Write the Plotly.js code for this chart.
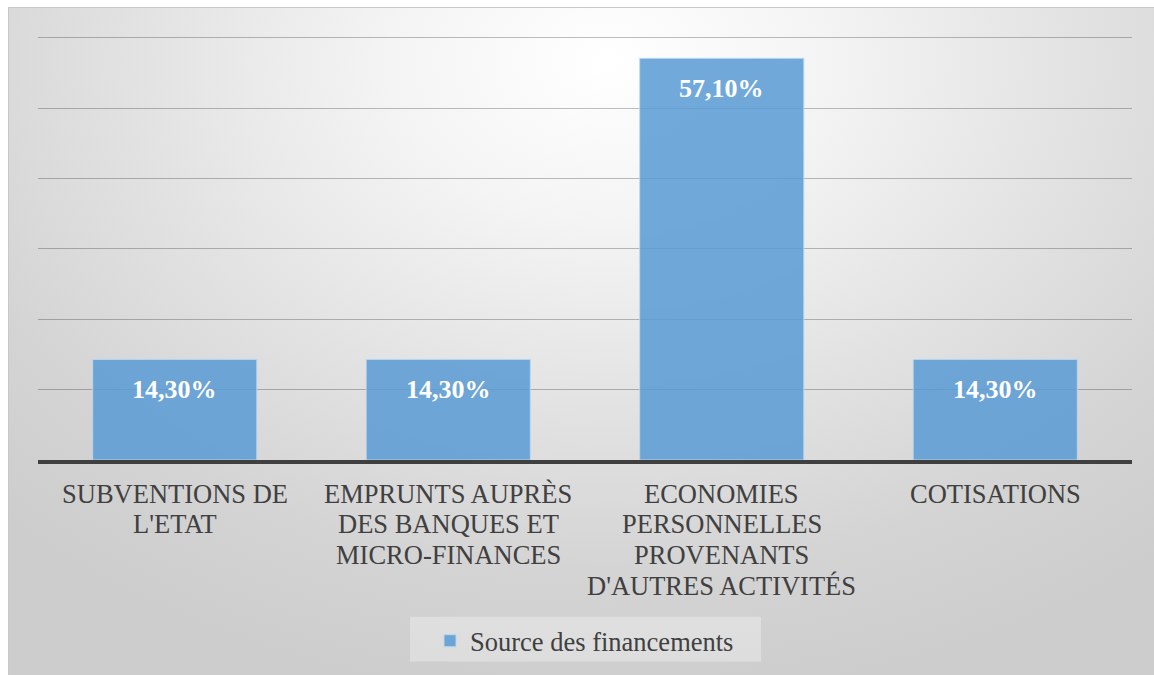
<!DOCTYPE html>
<html>
<head>
<meta charset="utf-8">
<script src="https://cdn.plot.ly/plotly-3.0.1.min.js"></script>
<style>
  html, body { margin: 0; padding: 0; background: #ffffff; }
  #fond {
    position: absolute; left: 8px; top: 7px; width: 1150px; height: 672px;
    border: 1px solid #c8c8c8;
    background: radial-gradient(ellipse 75% 95% at 52% 8%, #ffffff 0%, #f4f4f4 25%, #e2e2e2 55%, #d4d4d4 80%, #cdcdcd 100%);
  }
  #grafico { position: absolute; left: 0; top: 0; width: 1154px; height: 675px; }
</style>
</head>
<body>
<div id="fond"></div>
<div id="grafico"></div>
<script>
// Données du graphique
const categories = ['Subventions', 'Emprunts', 'Economies', 'Cotisations']
const etiquettes = [
    ["SUBVENTIONS DE", "L'ETAT"],
    ["EMPRUNTS AUPRÈS", "DES BANQUES ET", "MICRO-FINANCES"],
    ["ECONOMIES", "PERSONNELLES", "PROVENANTS", "D'AUTRES ACTIVITÉS"],
    ["COTISATIONS"]
]
const valeurs = [14.3, 14.3, 57.1, 14.3]
const nomSerie = 'Source des financements'

const grafico = document.getElementById('grafico')
const W = 1154, H = 675
const marge = {l: 38, r: 22, t: 36, b: 214}
const police = '"Liberation Serif", "Times New Roman", serif'

// pixel -> coordonnées paper
const px = x => (x - marge.l) / (W - marge.l - marge.r)
const py = y => (H - marge.b - y) / (H - marge.t - marge.b)

const barres = {
    x: categories,
    y: valeurs,
    type: 'bar',
    name: nomSerie,
    width: 0.6,
    marker: {
        color: 'rgba(91,155,213,0.86)',
        line: {color: 'rgba(189,215,238,0.9)', width: 1}
    },
    hoverinfo: 'skip'
}

// étiquettes de données
const annotations = valeurs.map((v, i) => ({
    x: categories[i],
    y: v,
    xref: 'x', yref: 'y',
    text: '<b>' + v.toFixed(2).replace('.', ',') + '%</b>',
    showarrow: false,
    yanchor: 'top',
    yshift: -14,
    font: {family: police, size: 26, color: '#ffffff'}
}))

// libellés des catégories, ligne par ligne (interligne serré comme dans Excel)
etiquettes.forEach((lignes, i) => {
    lignes.forEach((ligne, j) => {
        annotations.push({
            x: categories[i],
            y: 0,
            xref: 'x', yref: 'paper',
            text: ligne,
            showarrow: false,
            yanchor: 'middle',
            yshift: -33.5 - j * 30.7,
            font: {family: police, size: 26.5, color: '#404040'}
        })
    })
})

const layout = {
    width: W,
    height: H,
    margin: marge,
    paper_bgcolor: 'rgba(0,0,0,0)',
    plot_bgcolor: 'rgba(0,0,0,0)',
    font: {family: police, size: 26.5, color: '#404040'},
    xaxis: {
        showline: true,
        linecolor: '#404040',
        linewidth: 4,
        ticks: '',
        showticklabels: false,
        showgrid: false
    },
    yaxis: {
        // un peu de marge en haut pour que la grille à 60 soit tracée
        range: [0, 60.28],
        dtick: 10,
        showticklabels: false,
        gridcolor: 'rgba(0,0,0,0.25)',
        gridwidth: 1,
        zeroline: false,
        fixedrange: true
    },
    showlegend: true,
    legend: {
        orientation: 'h',
        x: px(430),
        xanchor: 'left',
        y: py(641),
        yanchor: 'middle',
        bgcolor: 'rgba(0,0,0,0)',
        font: {family: police, size: 26.5, color: '#404040'}
    },
    shapes: [{
        type: 'rect',
        xref: 'paper', yref: 'paper',
        x0: px(410), x1: px(761),
        y0: py(663), y1: py(618),
        fillcolor: 'rgba(255,255,255,0.3)',
        line: {width: 0},
        layer: 'below'
    }],
    annotations: annotations
}

Plotly.newPlot(grafico, [barres], layout, {displayModeBar: false, staticPlot: true})
</script>
</body>
</html>
